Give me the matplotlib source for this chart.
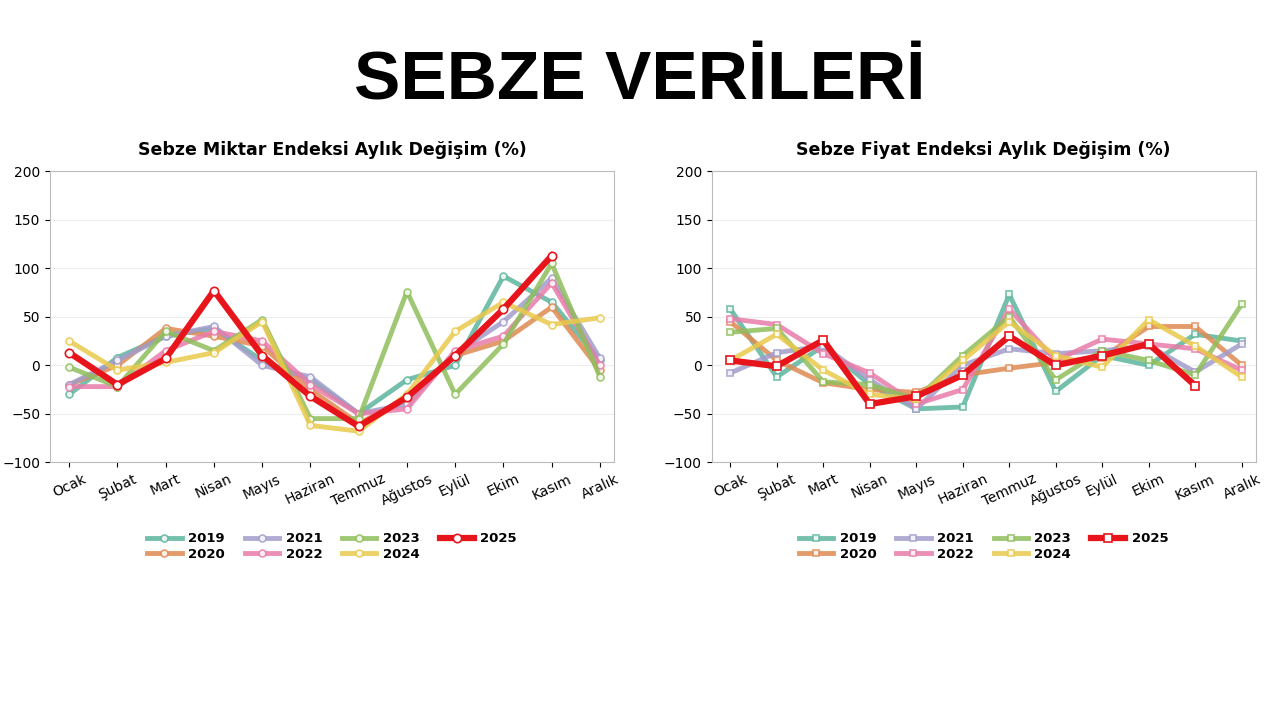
import matplotlib
matplotlib.use("Agg")
import matplotlib.pyplot as plt

months = ["Ocak","Şubat","Mart","Nisan","Mayıs","Haziran","Temmuz","Ağustos","Eylül","Ekim","Kasım","Aralık"]
years = ["2019","2020","2021","2022","2023","2024","2025"]
colors = ["#5db59e","#e08a52","#a29dcb","#e87ca9","#8fbe5c","#e9c94c","#e8141c"]

miktar = {
 "2019": [-30, 8, 30, 38, 5, -15, -50, -15, 0, 92, 65, 5],
 "2020": [-20, 0, 38, 30, 20, -25, -60, -35, 10, 25, 60, -5],
 "2021": [-20, 5, 30, 40, 0, -12, -50, -40, 12, 45, 90, 7],
 "2022": [-22, -22, 15, 35, 25, -20, -50, -45, 15, 30, 85, 0],
 "2023": [-2, -22, 35, 15, 47, -55, -55, 76, -30, 22, 105, -12],
 "2024": [25, -5, 3, 13, 45, -62, -68, -30, 35, 65, 42, 49],
 "2025": [13, -20, 7, 77, 10, -32, -63, -33, 10, 58, 113],
}
fiyat = {
 "2019": [58, -12, 20, -20, -45, -43, 73, -27, 10, 0, 32, 25],
 "2020": [45, 5, -18, -25, -28, -10, -3, 3, 8, 40, 40, 0],
 "2021": [-8, 13, 20, -15, -45, 0, 17, 12, 15, 20, -7, 22],
 "2022": [48, 42, 12, -8, -40, -25, 58, 5, 27, 22, 17, -5],
 "2023": [34, 38, -17, -20, -35, 10, 50, -15, 15, 5, -10, 63],
 "2024": [5, 32, -5, -30, -35, 5, 45, 10, -2, 47, 20, -12],
 "2025": [5, -1, 26, -40, -32, -10, 30, 0, 10, 22, -21],
}

fig = plt.figure(figsize=(12.8, 7.2), dpi=100)
fig.text(0.5, 0.888, "SEBZE VERİLERİ", ha="center", va="center", fontsize=50,
         fontweight="bold", family="Liberation Sans")

def panel(rect, data, title, marker):
    ax = fig.add_axes(rect)
    for y, c in zip(years, colors):
        v = data[y]
        is25 = y == "2025"
        ax.plot(range(len(v)), v, color=c, lw=4.5 if is25 else 3.5, alpha=1 if is25 else 0.85,
                marker=marker, ms=6 if is25 else 5, mfc="white", mec=c, mew=1.2,
                zorder=5 if is25 else 2, label=y)
    ax.set_ylim(-100, 200)
    ax.set_yticks([-100, -50, 0, 50, 100, 150, 200])
    ax.set_xlim(-0.4, 11.3)
    ax.set_xticks(range(12))
    ax.set_xticklabels(months, rotation=25, fontsize=10)
    ax.tick_params(axis="y", labelsize=10)
    ax.grid(axis="y", color="#eeeeee", lw=0.8)
    for s in ax.spines.values():
        s.set_color("#bbbbbb")
    ax.set_title(title, fontsize=12.5, fontweight="bold", pad=12)
    handles, labels = ax.get_legend_handles_labels()
    ax.legend(handles, labels, ncol=4, loc="upper center", bbox_to_anchor=(0.5, -0.2),
              frameon=False, prop={"weight": "bold", "size": 9.5},
              handlelength=2.6, handletextpad=0.5, columnspacing=1.5, labelspacing=0.2)
    return ax

panel([0.039, 0.358, 0.441, 0.404], miktar, "Sebze Miktar Endeksi Aylık Değişim (%)", "o")
panel([0.556, 0.358, 0.425, 0.404], fiyat, "Sebze Fiyat Endeksi Aylık Değişim (%)", "s")
fig.savefig("out.png", dpi=100)
